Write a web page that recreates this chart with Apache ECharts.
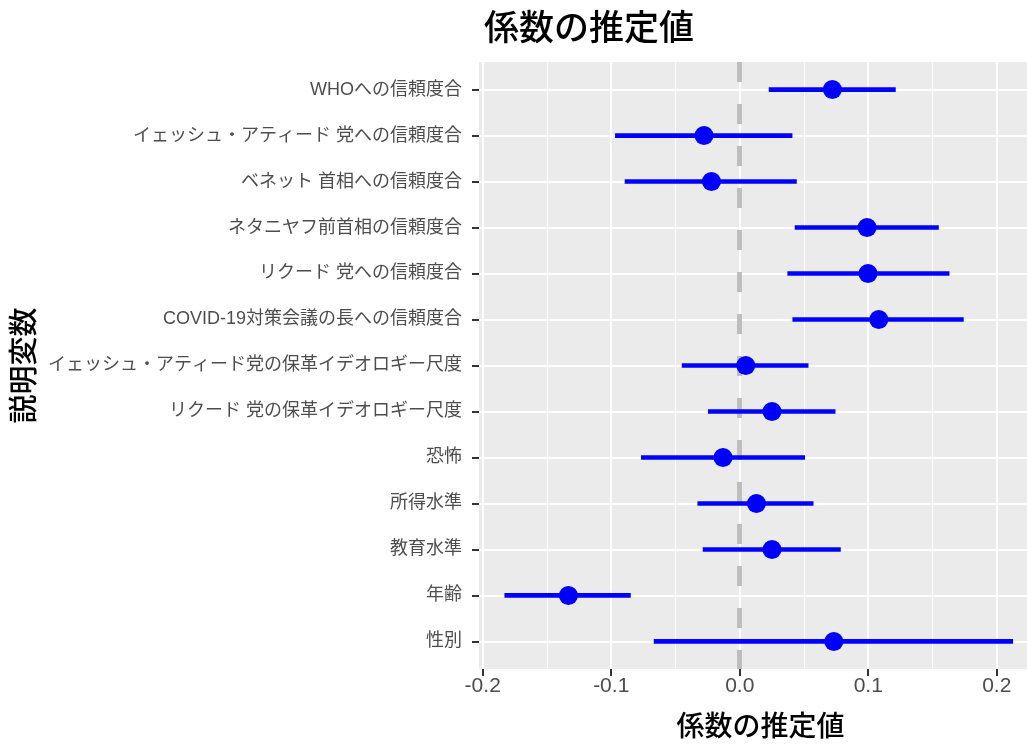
<!DOCTYPE html>
<html>
<head>
<meta charset="utf-8">
<script src="https://cdn.jsdelivr.net/npm/echarts@6/dist/echarts.min.js"></script>
<style>
  html, body { margin: 0; padding: 0; overflow: hidden; background: #ffffff; }
  #chart { width: 1045px; height: 745px; }
</style>
</head>
<body>
<div id="chart"></div>
<script>
// Explanatory variables, listed top to bottom
const variables = [
  'WHOへの信頼度合',
  'イェッシュ・アティード 党への信頼度合',
  'ベネット 首相への信頼度合',
  'ネタニヤフ前首相の信頼度合',
  'リクード 党への信頼度合',
  'COVID-19対策会議の長への信頼度合',
  'イェッシュ・アティード党の保革イデオロギー尺度',
  'リクード 党の保革イデオロギー尺度',
  '恐怖',
  '所得水準',
  '教育水準',
  '年齢',
  '性別'
];
// Point estimates of the coefficients
const estimates = [0.0721, -0.0278, -0.0220, 0.0991, 0.0998, 0.1082, 0.0047, 0.0251, -0.0130, 0.0130, 0.0251, -0.1333, 0.0732];
// Lower and upper ends of the confidence intervals
const lower = [0.0226, -0.0970, -0.0895, 0.0428, 0.0371, 0.0410, -0.0451, -0.0247, -0.0768, -0.0329, -0.0288, -0.1831, -0.0669];
const upper = [0.1214, 0.0410, 0.0444, 0.1549, 0.1632, 0.1743, 0.0535, 0.0745, 0.0508, 0.0574, 0.0786, -0.0848, 0.2127];

const TITLE = '係数の推定値';
const X_NAME = '係数の推定値';
const Y_NAME = '説明変数';

// Layout of the plotting panel
const W = 1045, H = 745;
const panelLeft = 479, panelRight = 1038.5, panelTop = 62, panelBottom = 669;
// x range padded by 5% of the data span on each side
const dataMin = Math.min(...lower), dataMax = Math.max(...upper);
const span = dataMax - dataMin;
const xMin = dataMin - 0.05 * span, xMax = dataMax + 0.05 * span;
const firstTick = Math.ceil(xMin / 0.1) * 0.1;
const tickLeft = panelLeft + (firstTick - xMin) / (xMax - xMin) * (panelRight - panelLeft);
// discrete y axis padded by 0.6 of a row at each end
const rowUnit = (panelBottom - panelTop) / (variables.length - 1 + 1.2);
const rowsTop = panelTop + 0.6 * rowUnit;
const rowsBottom = panelBottom - 0.6 * rowUnit;

const CJK = "'Noto Sans CJK JP', sans-serif";
const MIXED = "'Liberation Sans', 'Noto Sans CJK JP', sans-serif";
const BLUE = '#0000FF';
const HEADING_WEIGHT = 500;

const chart = echarts.init(document.getElementById('chart'), null, { width: W, height: H });

chart.setOption({
  animation: false,
  backgroundColor: '#ffffff',
  title: {
    text: TITLE,
    left: panelLeft,
    top: 4,
    textStyle: { fontFamily: CJK, fontSize: 35, fontWeight: HEADING_WEIGHT, color: '#000000' }
  },
  grid: [
    // 0: grey panel and the zero reference line
    { left: panelLeft, right: W - panelRight, top: panelTop, bottom: H - panelBottom,
      show: true, backgroundColor: '#EBEBEB', borderWidth: 0, containLabel: false },
    // 1: x ticks, labels and vertical grid lines
    { left: tickLeft, right: W - panelRight, top: panelTop, bottom: H - panelBottom, containLabel: false },
    // 2: estimates and intervals, one row per variable
    { left: panelLeft, right: W - panelRight, top: rowsTop, bottom: H - rowsBottom, containLabel: false }
  ],
  xAxis: [
    { gridIndex: 0, type: 'value', min: xMin, max: xMax, show: false },
    {
      gridIndex: 1, type: 'value', min: firstTick, max: xMax, position: 'bottom',
      axisLine: { show: false, onZero: false },
      axisTick: { show: true, length: 7, lineStyle: { color: '#333333', width: 2 } },
      axisLabel: {
        show: true, margin: 7, color: '#4D4D4D', fontSize: 21, fontFamily: MIXED,
        formatter: v => {
          const r = Math.round(v * 10);
          return Math.abs(v * 10 - r) < 1e-6 ? (r / 10).toFixed(1) : '';
        }
      },
      splitLine: { show: true, lineStyle: { color: '#FFFFFF', width: 1.8 } },
      minorTick: { show: false, splitNumber: 2 },
      minorSplitLine: { show: true, lineStyle: { color: '#FFFFFF', width: 0.9 } },
      name: X_NAME, nameLocation: 'middle', nameGap: 42,
      nameTextStyle: { fontFamily: CJK, fontSize: 28, fontWeight: HEADING_WEIGHT, color: '#000000' }
    },
    { gridIndex: 2, type: 'value', min: xMin, max: xMax, show: false }
  ],
  yAxis: [
    { gridIndex: 0, type: 'value', min: 0, max: 1, inverse: true, show: false },
    { gridIndex: 1, type: 'value', min: 0, max: 1, show: false },
    {
      gridIndex: 2, type: 'category', data: variables, inverse: true, boundaryGap: false,
      position: 'left',
      axisLine: { show: false, onZero: false },
      axisTick: { show: true, length: 7, lineStyle: { color: '#333333', width: 2 } },
      axisLabel: { show: true, interval: 0, margin: 17, color: '#4D4D4D', fontSize: 18, fontFamily: MIXED },
      splitLine: { show: true, interval: 0, lineStyle: { color: '#FFFFFF', width: 1.8 } },
      name: Y_NAME, nameLocation: 'middle', nameRotate: 90, nameGap: 433,
      nameTextStyle: { fontFamily: CJK, fontSize: 29, fontWeight: HEADING_WEIGHT, color: '#000000' }
    }
  ],
  series: [
    {
      // dashed reference line at zero
      type: 'line', xAxisIndex: 0, yAxisIndex: 0, data: [], silent: true,
      markLine: {
        silent: true, symbol: ['none', 'none'], z: 1,
        label: { show: false },
        lineStyle: { color: '#BEBEBE', width: 5, type: [20, 22] },
        emphasis: { disabled: true },
        data: [{ xAxis: 0 }]
      }
    },
    {
      // confidence intervals
      type: 'custom', xAxisIndex: 2, yAxisIndex: 2, z: 3, silent: true,
      data: variables.map((name, i) => [lower[i], upper[i], i]),
      encode: { x: [0, 1], y: 2 },
      renderItem: (params, api) => {
        const a = api.coord([api.value(0), api.value(2)]);
        const b = api.coord([api.value(1), api.value(2)]);
        return {
          type: 'line',
          shape: { x1: a[0], y1: a[1], x2: b[0], y2: b[1] },
          style: { stroke: BLUE, lineWidth: 4.6, lineCap: 'butt' }
        };
      }
    },
    {
      // point estimates
      type: 'scatter', xAxisIndex: 2, yAxisIndex: 2, z: 4, silent: true,
      symbol: 'circle', symbolSize: 19,
      itemStyle: { color: BLUE, opacity: 1 },
      data: variables.map((name, i) => [estimates[i], i])
    }
  ]
});
</script>
</body>
</html>
